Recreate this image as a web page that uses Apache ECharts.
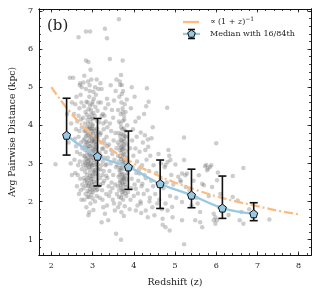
<!DOCTYPE html>
<html><head><meta charset="utf-8">
<script src="https://cdn.jsdelivr.net/npm/echarts@6/dist/echarts.min.js"></script>
<style>html,body{margin:0;padding:0;background:#fff}#c{width:319px;height:294px}</style>
</head><body><div id="c"></div>
<script>
// ---- data ----
const xMajorTicks = [2,3,4,5,6,7,8];
const yMajorTicks = [1,2,3,4,5,6,7];

const medianZ   = [2.37, 3.12, 3.87, 4.64, 5.40, 6.15, 6.91];
const medianVal = [3.74, 3.19, 2.91, 2.47, 2.17, 1.83, 1.68];
const p16       = [3.22, 2.41, 2.32, 1.82, 1.84, 1.56, 1.50];
const p84       = [4.71, 4.18, 3.85, 3.09, 2.85, 2.67, 1.97];

const modelZ   = [2.0, 2.5, 3.0, 3.5, 4.0, 4.5, 5.0, 5.5, 6.0, 6.5, 7.0, 7.5, 8.0];
const modelVal = [5.00, 4.29, 3.75, 3.33, 3.00, 2.73, 2.50, 2.31, 2.14, 2.00, 1.88, 1.76, 1.67];

const legendLabels = ['Median with 16/84th'];

const galaxies = [
[2.10,2.98],[2.45,5.25],[2.48,4.05],[2.42,3.55],[2.50,4.60],[2.47,3.00],[2.38,4.30],[2.50,2.70],
[2.56,3.10],[2.58,2.75],[2.60,3.45],[2.62,2.40],[2.63,4.10],[2.60,3.90],[2.65,2.95],[2.66,3.70],[2.67,2.20],[2.68,4.45],[2.70,3.25],[2.70,2.60],[2.71,4.80],[2.72,3.55],[2.73,2.05],[2.74,3.95],[2.74,2.85],[2.58,4.55],[2.62,3.30],[2.66,4.25],[2.69,3.05],[2.72,4.15],[2.75,2.45],[2.75,3.40],[2.55,4.30],[2.64,2.70],[2.68,3.85],[2.71,2.30],[2.73,4.60],[2.57,3.65],[2.61,4.75],[2.69,5.05],[2.53,5.25],[2.66,6.31],[2.70,5.10],[2.74,5.00],
[2.90,1.64],[2.85,1.85],[2.95,1.95],[3.02,1.78],[2.80,2.05],[2.88,2.12],[2.97,2.18],[3.06,2.00],[3.10,2.15],[2.92,1.72],[3.00,2.08],[2.83,2.20],
[2.78,2.35],[2.81,2.55],[2.84,2.42],[2.86,2.70],[2.88,2.28],[2.90,2.62],[2.91,2.48],[2.93,2.75],[2.94,2.33],[2.96,2.58],[2.98,2.44],[2.99,2.68],[3.01,2.25],[3.03,2.52],[3.04,2.78],[3.06,2.38],[3.08,2.65],[3.09,2.30],[3.11,2.55],[3.13,2.72],[3.14,2.40],[2.79,2.62],[2.87,2.50],[2.95,2.40],[3.00,2.60],[3.05,2.47],[3.12,2.32],[2.82,2.78],[2.92,2.24],[3.07,2.74],
[2.77,2.95],[2.79,3.20],[2.80,3.05],[2.82,3.35],[2.84,2.88],[2.85,3.12],[2.87,3.28],[2.89,2.98],[2.90,3.38],[2.91,3.08],[2.93,2.85],[2.94,3.22],[2.96,3.00],[2.97,3.32],[2.98,2.92],[3.00,3.15],[3.01,3.40],[3.02,2.82],[3.04,3.10],[3.05,3.30],[3.06,2.96],[3.08,3.18],[3.09,3.36],[3.10,2.90],[3.11,3.05],[3.13,3.25],[3.14,2.84],[3.15,3.12],[2.83,3.00],[2.88,3.15],[2.95,3.10],[2.99,3.25],[3.03,3.02],[3.07,3.38],[3.12,2.98],
[2.78,3.60],[2.80,3.85],[2.82,3.48],[2.84,3.72],[2.86,3.95],[2.87,3.55],[2.89,3.80],[2.91,3.45],[2.92,3.68],[2.94,3.90],[2.96,3.52],[2.97,3.76],[2.99,3.62],[3.00,3.98],[3.02,3.44],[3.03,3.70],[3.05,3.86],[3.06,3.58],[3.08,3.78],[3.09,3.50],[3.11,3.92],[3.12,3.66],[3.14,3.82],[2.81,3.65],[2.90,3.58],[2.98,3.85],[3.04,3.55],[3.10,3.72],[2.85,3.42],[2.93,3.96],
[2.77,4.20],[2.79,4.50],[2.81,4.05],[2.83,4.35],[2.85,4.62],[2.88,4.15],[2.90,4.42],[2.92,4.75],[2.95,4.08],[2.97,4.30],[2.99,4.55],[3.01,4.18],[3.03,4.70],[3.05,4.25],[3.07,4.48],[3.10,4.12],[3.12,4.38],[3.14,4.60],[2.86,4.28],[2.94,4.52],[3.00,4.02],[3.08,4.80],
[2.80,5.30],[2.84,4.95],[2.89,5.15],[2.93,5.05],[2.93,4.90],[2.95,5.46],[2.84,5.70],[2.90,5.66],[2.97,5.20],[3.02,4.88],[3.06,5.00],[3.14,4.95],[2.78,5.12],[3.10,5.20],
[2.84,6.46],[2.94,6.46],
[2.86,2.58],[2.89,2.40],[2.92,2.90],[2.94,2.66],[2.97,2.52],[2.99,2.95],[3.01,2.72],[3.03,2.35],[2.88,3.05],[2.91,3.25],[2.93,3.45],[2.96,3.18],[2.98,3.58],[3.00,3.32],[3.02,3.60],[3.04,3.24],[2.85,3.55],[2.87,3.75],[2.90,3.92],[2.95,3.70],[2.97,3.92],[3.01,3.78],[3.03,3.90],[2.89,4.05],[2.92,4.22],[2.96,4.40],[2.98,4.18],[3.02,4.32],[2.86,2.95],[2.94,2.98],[3.06,2.82],[3.08,3.50],[2.83,3.85],[2.91,2.12],[2.99,2.30],[3.05,3.65],[2.88,4.60],[3.00,4.62],[2.82,3.18],[3.10,3.42],
[3.17,2.10],[3.18,2.45],[3.19,2.85],[3.20,3.20],[3.21,3.55],[3.22,1.46],[3.23,2.30],[3.24,2.70],[3.25,3.05],[3.26,3.40],[3.27,3.90],[3.28,2.55],[3.29,4.25],[3.30,1.68],[3.30,6.53],[3.31,2.95],[3.32,3.30],[3.33,2.20],[3.34,3.70],[3.35,6.28],[3.35,4.70],[3.36,2.62],[3.37,3.15],[3.38,1.51],[3.39,2.40],[3.40,3.50],[3.41,2.80],[3.42,5.74],[3.42,4.05],[3.43,2.25],[3.44,3.00],[3.45,3.85],[3.46,2.50],[3.47,4.40],[3.48,3.25],[3.49,2.05],[3.50,2.70],[3.51,3.60],[3.52,1.95],[3.53,3.10],[3.54,1.77],[3.55,2.45],[3.56,4.90],[3.57,1.16],[3.57,2.90],[3.58,3.40],[3.59,2.20],[3.20,4.60],[3.22,4.95],[3.25,4.30],[3.18,3.75],[3.28,3.62],[3.32,4.10],[3.38,4.55],[3.45,3.35],[3.50,4.20],[3.55,3.80],[3.40,2.15],[3.35,1.90],[3.26,1.85],[3.16,4.08],[3.44,5.05],[3.52,4.65],[3.48,2.35],[3.36,3.95],[3.24,2.05],[3.19,5.10],[3.58,5.20],
[3.18,2.62],[3.21,2.95],[3.23,3.38],[3.27,2.80],[3.30,3.52],[3.33,2.68],[3.20,3.80],[3.25,2.48],[3.28,3.15],[3.31,4.45],[3.22,4.25],[3.17,3.28],[3.34,2.98],[3.26,4.05],[3.36,3.45],
[3.69,1.00],[3.62,1.85],[3.66,1.95],[3.70,1.72],[3.74,2.05],[3.78,1.88],[3.82,2.15],[3.64,2.12],[3.76,1.62],[3.72,2.18],
[3.61,2.40],[3.63,2.65],[3.65,2.30],[3.67,2.55],[3.68,2.78],[3.70,2.35],[3.71,2.60],[3.73,2.45],[3.75,2.72],[3.76,2.28],[3.78,2.52],[3.79,2.68],[3.81,2.38],[3.83,2.58],[3.85,2.75],[3.86,2.25],[3.72,2.50],[3.66,2.70],[3.80,2.22],[3.74,2.62],
[3.60,2.95],[3.62,3.20],[3.64,3.05],[3.66,3.35],[3.67,2.88],[3.69,3.12],[3.70,3.28],[3.72,2.98],[3.73,3.38],[3.75,3.08],[3.76,2.85],[3.78,3.22],[3.79,3.00],[3.81,3.32],[3.82,2.92],[3.84,3.15],[3.86,3.05],[3.71,3.18],[3.77,3.40],[3.65,2.82],
[3.61,3.55],[3.63,3.80],[3.65,3.48],[3.67,3.72],[3.68,4.05],[3.70,3.60],[3.72,3.90],[3.73,3.45],[3.75,3.75],[3.77,4.15],[3.78,3.58],[3.80,3.85],[3.82,3.50],[3.84,4.00],[3.69,3.95],[3.76,3.65],[3.64,4.10],[3.81,3.70],
[3.62,4.40],[3.65,4.75],[3.68,4.30],[3.70,4.60],[3.71,5.06],[3.73,4.45],[3.74,4.90],[3.76,4.25],[3.78,4.55],[3.80,4.35],[3.69,5.32],[3.73,5.70],[3.66,5.15],[3.83,4.68],[3.67,5.06],[3.71,4.82],
[3.64,6.78],
[3.68,2.42],[3.70,2.88],[3.72,3.55],[3.74,2.32],[3.75,3.25],[3.77,2.62],[3.69,3.42],[3.71,2.72],[3.73,3.02],[3.76,3.92],[3.78,2.95],[3.67,3.18],[3.70,3.78],[3.74,4.12],[3.72,2.25],[3.77,3.10],[3.79,2.45],[3.66,2.50],[3.68,3.62],[3.75,2.58],[3.71,3.35],[3.73,4.35],[3.69,2.10],[3.76,3.50],[3.78,3.72],
[3.90,1.80],[3.92,2.05],[3.94,2.35],[3.95,2.60],[3.97,2.90],[3.98,3.90],[3.99,3.20],[4.00,2.15],[4.02,2.45],[4.04,3.39],[4.05,1.77],[4.05,2.34],[4.06,2.75],[4.08,3.05],[4.10,2.21],[4.11,2.55],[4.12,4.20],[4.13,2.85],[4.14,2.74],[4.14,3.31],[4.16,2.00],[4.17,1.95],[4.17,3.81],[4.19,2.40],[4.20,2.95],[4.21,2.47],[4.22,3.55],[4.24,2.20],[4.26,2.70],[4.27,3.74],[4.28,3.35],[4.29,1.77],[4.29,2.61],[4.31,3.10],[4.32,4.97],[4.33,2.30],[4.34,1.59],[4.34,3.63],[4.35,3.44],[4.36,4.62],[4.37,2.80],[4.39,2.10],[4.40,3.20],[4.42,2.55],[4.43,3.66],[4.45,1.85],[4.46,3.95],[4.47,2.40],[4.48,2.95],[3.93,4.45],[4.02,4.75],[3.96,3.60],[4.07,3.70],[3.91,3.40],[4.25,4.30],[4.18,1.70],[4.09,1.90],[4.38,2.00],[4.04,4.10],[3.95,5.00],[4.30,4.50],
[4.50,1.64],[4.52,2.20],[4.55,2.75],[4.57,1.95],[4.60,3.25],[4.62,2.05],[4.65,2.60],[4.68,1.80],[4.70,1.39],[4.70,1.55],[4.72,2.35],[4.75,2.90],[4.77,1.33],[4.77,1.95],[4.77,2.96],[4.80,2.50],[4.81,4.46],[4.82,1.77],[4.82,3.04],[4.84,3.35],[4.86,3.20],[4.87,1.24],[4.88,2.15],[4.89,3.09],[4.93,1.86],[4.94,1.59],[4.96,2.45],[5.01,2.97],[5.03,2.10],[5.08,2.65],[5.13,2.56],[5.14,2.52],[5.17,2.74],[5.17,1.99],[5.17,1.51],[5.22,3.09],[5.22,3.68],[5.22,0.88],[5.25,2.69],[5.26,2.38],[5.29,2.74],[4.58,2.45],[4.66,3.00],[4.91,2.70],
[5.35,2.30],[5.40,1.90],[5.45,2.55],[5.49,1.51],[5.52,2.10],[5.58,2.69],[5.61,1.46],[5.61,1.73],[5.66,2.47],[5.66,1.33],[5.70,2.43],[5.73,2.93],[5.76,2.96],[5.78,2.82],[5.80,2.87],[5.85,2.91],[5.88,2.95],[5.90,2.38],[5.94,1.51],[5.94,1.68],[5.98,1.42],[5.98,1.59],[6.00,3.53],[6.02,2.56],[6.02,1.51],[6.04,2.76],[6.06,1.86],[5.55,1.95],[5.82,2.15],[6.10,2.20],
[6.40,2.12],[6.40,2.67],[6.52,2.03],[6.57,1.51],[6.61,1.73],[6.66,1.42],[6.66,2.88],[7.29,1.53],[6.80,1.80],[6.30,1.65]
];

// ---- axis helpers ----
const X_MIN = 1.7, X_MAX = 8.3, Y_MIN = 0.6, Y_MAX = 7.05;
function minorList(a, b) { const r = []; for (let v = a; v <= b + 1e-9; v += 0.2) r.push(Math.round(v * 10) / 10); return r; }
const xMinor = minorList(1.8, 8.2);
const yMinor = minorList(0.6, 7.0);

const FONT = 'DejaVu Serif';
const black = '#111';
const textCol = '#222';

function mkAxis(kind, pos, ticks, len, labels, extra) {
  const isX = kind === 'x';
  return Object.assign({
    type: 'value', position: pos, gridIndex: 0,
    min: isX ? X_MIN : Y_MIN, max: isX ? X_MAX : Y_MAX,
    axisLine: { show: true, onZero: false, lineStyle: { color: black, width: 1 } },
    axisTick: { show: true, inside: true, length: len, customValues: ticks, lineStyle: { color: black, width: 0.8 } },
    axisLabel: labels ? { show: true, customValues: ticks, fontFamily: FONT, fontSize: 8, color: textCol, margin: isX ? 7 : 6 } : { show: false },
    splitLine: { show: false }
  }, extra || {});
}

const xAxes = [
  mkAxis('x', 'bottom', xMajorTicks, 3.5, true, {
    name: 'Redshift (z)', nameLocation: 'middle', nameGap: 23,
    nameTextStyle: { fontFamily: FONT, fontSize: 9.4, color: textCol }
  }),
  mkAxis('x', 'bottom', xMinor, 2, false),
  mkAxis('x', 'top', xMajorTicks, 3.5, false),
  mkAxis('x', 'top', xMinor, 2, false)
];
const yAxes = [
  mkAxis('y', 'left', yMajorTicks, 3.5, true, {
    name: 'Avg Pairwise Distance (kpc)', nameLocation: 'middle', nameGap: 21,
    nameTextStyle: { fontFamily: FONT, fontSize: 9.2, color: textCol }
  }),
  mkAxis('y', 'left', yMinor, 2, false),
  mkAxis('y', 'right', yMajorTicks, 3.5, false),
  mkAxis('y', 'right', yMinor, 2, false)
];

const pentagon = 'path://M0,-1 L0.951,-0.309 L0.588,0.809 L-0.588,0.809 L-0.951,-0.309 Z';
const blue = '#98c8e2';
const orange = '#fdbb80';

const errData = medianZ.map((z, i) => [z, p16[i], p84[i]]);
const medData = medianZ.map((z, i) => [z, medianVal[i]]);
const modelData = modelZ.map((z, i) => [z, modelVal[i]]);

// legend drawn as graphic (key only, no data)
const LX = 183, LY1 = 22, LY2 = 34, TX = 210;
const legendGraphic = [
  { type: 'line', shape: { x1: LX, y1: LY1, x2: LX + 16, y2: LY1 }, style: { stroke: orange, lineWidth: 2.3 } },
  { type: 'text', x: TX, y: LY1, style: {
      text: '{a|∝ (1 + }{i|z}{a|)}{s|−1}', verticalAlign: 'middle',
      rich: {
        a: { fontFamily: FONT, fontSize: 8, fill: textCol },
        i: { fontFamily: FONT, fontSize: 8, fontStyle: 'italic', fill: textCol },
        s: { fontFamily: FONT, fontSize: 6, fill: textCol, padding: [0, 0, 5, 0] }
      } } },
  { type: 'line', shape: { x1: LX, y1: LY2, x2: LX + 17, y2: LY2 }, style: { stroke: blue, lineWidth: 2.3 } },
  { type: 'line', shape: { x1: LX + 8.5, y1: LY2 - 4.5, x2: LX + 8.5, y2: LY2 + 4.5 }, style: { stroke: '#111', lineWidth: 1.6 } },
  { type: 'line', shape: { x1: LX + 5, y1: LY2 - 4.5, x2: LX + 12, y2: LY2 - 4.5 }, style: { stroke: '#111', lineWidth: 1.6 } },
  { type: 'line', shape: { x1: LX + 5, y1: LY2 + 4.5, x2: LX + 12, y2: LY2 + 4.5 }, style: { stroke: '#111', lineWidth: 1.6 } },
  { type: 'polygon', shape: { points: [[0,-1],[0.951,-0.309],[0.588,0.809],[-0.588,0.809],[-0.951,-0.309]].map(p => [LX + 8.5 + p[0] * 4, LY2 + p[1] * 4]) },
    style: { fill: blue, stroke: '#111', lineWidth: 1 } },
  { type: 'text', x: TX, y: LY2, style: { text: legendLabels[0], verticalAlign: 'middle', fontFamily: FONT, fontSize: 8, fill: textCol } },
  { type: 'text', left: 47, top: 19, style: { text: '(b)', font: '15px "DejaVu Serif"', fill: textCol } }
];

const chart = echarts.init(document.getElementById('c'), null, { renderer: 'canvas' });
chart.setOption({
  animation: false,
  backgroundColor: '#fff',
  grid: { left: 35, right: 8, top: 9, bottom: 39, containLabel: false },
  xAxis: xAxes,
  yAxis: yAxes,
  graphic: legendGraphic,
  series: [
    {
      type: 'scatter', name: 'galaxies', data: galaxies, symbolSize: 4.5,
      itemStyle: { color: 'rgba(100,100,100,0.4)' }, z: 1, silent: true
    },
    {
      type: 'line', name: 'model', data: modelData, smooth: true, showSymbol: false, symbol: 'none',
      lineStyle: { color: orange, width: 2.3, type: [9, 3, 2, 3] }, z: 2
    },
    {
      type: 'line', name: 'median', data: medData, smooth: 0.4,
      symbol: pentagon, symbolSize: 8, showSymbol: true,
      lineStyle: { color: blue, width: 2.3 },
      itemStyle: { color: blue, borderColor: '#111', borderWidth: 1 }, z: 5
    },
    {
      type: 'custom', name: 'err', data: errData, z: 4,
      encode: { x: 0, y: [1, 2] },
      renderItem: function (params, api) {
        const z = api.value(0);
        const lo = api.coord([z, api.value(1)]);
        const hi = api.coord([z, api.value(2)]);
        const cw = 4;
        const st = { stroke: '#111', lineWidth: 1.6 };
        return { type: 'group', children: [
          { type: 'line', shape: { x1: lo[0], y1: lo[1], x2: hi[0], y2: hi[1] }, style: st },
          { type: 'line', shape: { x1: lo[0] - cw, y1: lo[1], x2: lo[0] + cw, y2: lo[1] }, style: st },
          { type: 'line', shape: { x1: hi[0] - cw, y1: hi[1], x2: hi[0] + cw, y2: hi[1] }, style: st }
        ] };
      }
    }
  ]
});
</script></body></html>
